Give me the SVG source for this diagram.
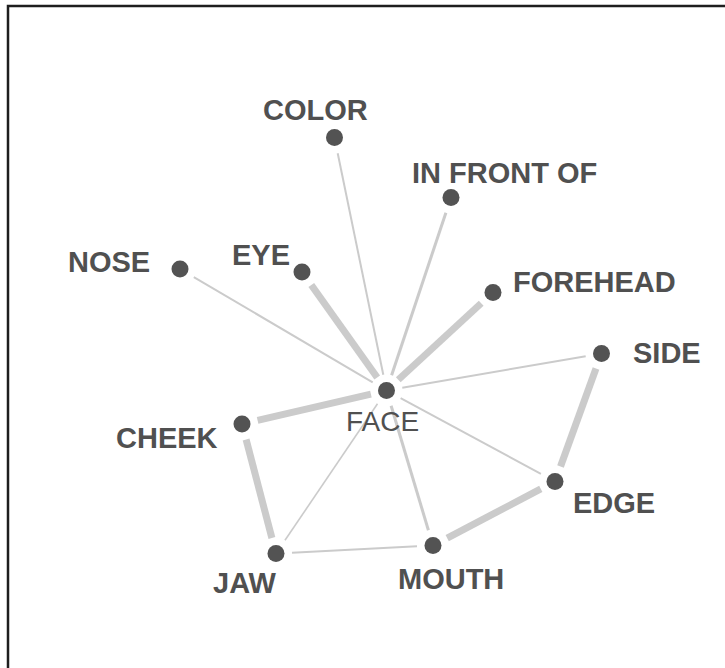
<svg xmlns="http://www.w3.org/2000/svg" width="725" height="668" viewBox="0 0 725 668">
<style>
.e{stroke:#cbcbcb;stroke-linecap:butt;fill:none}
.w7{stroke-width:7}
.w3{stroke-width:3}
.w2{stroke-width:2}
.w15{stroke-width:1.6}
.dot{fill:#535353}
.lb{font-family:"Liberation Sans",Arial,sans-serif;font-weight:bold;font-size:29px;fill:#505050}
.lc{font-family:"Liberation Sans",Arial,sans-serif;font-weight:normal;font-size:28px;fill:#505050}
</style>
<rect x="0" y="0" width="725" height="668" fill="#ffffff"/>
<rect x="8" y="6" width="740" height="690" fill="none" stroke="#1e1e1e" stroke-width="2.5"/>
<g id="connectors">
<line class="e w2" x1="383.3" y1="374.8" x2="337.7" y2="153.2"/>
<line class="e w3" x1="391.6" y1="375.3" x2="445.9" y2="212.7"/>
<line class="e w2" x1="372.7" y1="382.4" x2="193.8" y2="277.1"/>
<line class="e w7" x1="377.2" y1="377.5" x2="311.3" y2="285.0"/>
<line class="e w7" x1="398.3" y1="379.7" x2="481.2" y2="303.3"/>
<line class="e w2" x1="402.3" y1="387.8" x2="585.7" y2="356.2"/>
<line class="e w7" x1="370.9" y1="394.1" x2="257.6" y2="420.4"/>
<line class="e w2" x1="400.6" y1="398.1" x2="540.9" y2="473.9"/>
<line class="e w3" x1="391.1" y1="405.8" x2="428.4" y2="530.2"/>
<line class="e w15" x1="377.5" y1="403.7" x2="285.0" y2="540.3"/>
<line class="e w7" x1="246.1" y1="439.5" x2="271.9" y2="538.0"/>
<line class="e w2" x1="292" y1="552.7" x2="417" y2="546.3"/>
<line class="e w7" x1="447.2" y1="538.1" x2="540.8" y2="488.9"/>
<line class="e w7" x1="596.0" y1="368.5" x2="560.5" y2="466.5"/>
</g>
<g id="face"><circle class="dot" cx="386.5" cy="390.5" r="8.5"/><text class="lc" x="346" y="431">FACE</text></g>
<g id="color"><circle class="dot" cx="334.5" cy="137.5" r="8.5"/><text class="lb" x="263" y="120">COLOR</text></g>
<g id="in-front-of"><circle class="dot" cx="451" cy="197.5" r="8.5"/><text class="lb" x="412" y="183">IN FRONT OF</text></g>
<g id="nose"><circle class="dot" cx="180" cy="269" r="8.5"/><text class="lb" x="68" y="272">NOSE</text></g>
<g id="eye"><circle class="dot" cx="302" cy="272" r="8.5"/><text class="lb" x="232" y="265">EYE</text></g>
<g id="forehead"><circle class="dot" cx="493" cy="292.5" r="8.5"/><text class="lb" x="513" y="292">FOREHEAD</text></g>
<g id="side"><circle class="dot" cx="601.5" cy="353.5" r="8.5"/><text class="lb" x="633" y="363">SIDE</text></g>
<g id="cheek"><circle class="dot" cx="242" cy="424" r="8.5"/><text class="lb" x="116" y="448">CHEEK</text></g>
<g id="edge"><circle class="dot" cx="555" cy="481.5" r="8.5"/><text class="lb" x="573" y="513">EDGE</text></g>
<g id="jaw"><circle class="dot" cx="276" cy="553.5" r="8.5"/><text class="lb" x="213" y="593">JAW</text></g>
<g id="mouth"><circle class="dot" cx="433" cy="545.5" r="8.5"/><text class="lb" x="398" y="589">MOUTH</text></g>
</svg>
